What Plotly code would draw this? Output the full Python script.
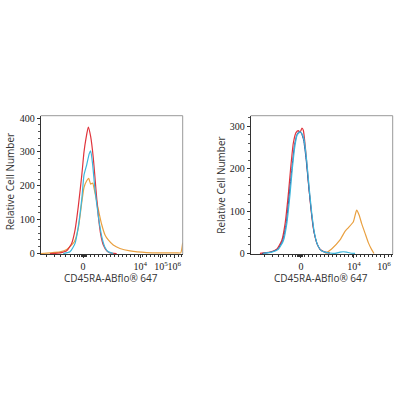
import plotly.graph_objects as go

# ---------- data (display channel 0-1000, relative cell number) ----------
# Left panel
L_red_x = [65, 136, 183, 218, 242, 265, 289, 305, 319, 335, 352, 371, 389, 406, 423, 441, 465, 488, 535]
L_red_y = [0, 2, 8, 30, 70, 140, 230, 300, 340, 373, 345, 280, 190, 110, 55, 25, 8, 2, 0]

L_cyan_x = [159, 206, 242, 265, 289, 305, 324, 342, 352, 366, 382, 406, 430, 453, 476, 511]
L_cyan_y = [0, 5, 30, 80, 160, 232, 262, 295, 303, 262, 190, 110, 50, 18, 5, 0]

L_orange_x = [0, 65, 136, 183, 237, 265, 289, 305, 324, 338, 352, 366, 382, 406, 430, 453, 476, 511, 558, 629, 746, 864, 958, 986, 1000]
L_orange_y = [0, 2, 5, 12, 35, 75, 150, 195, 215, 222, 205, 208, 180, 130, 85, 55, 40, 25, 15, 8, 3, 2, 2, 2, 32]

# Right panel
R_red_x = [65, 136, 183, 218, 242, 265, 281, 300, 319, 335, 347, 361, 371, 385, 406, 423, 441, 465, 488, 523, 558]
R_red_y = [0, 3, 10, 30, 70, 140, 200, 260, 285, 290, 285, 296, 290, 250, 170, 110, 60, 25, 10, 3, 1]

R_navy_x = [80, 140, 190, 225, 250, 272, 290, 308, 325, 342, 356, 372, 390, 410, 428, 446, 468, 492, 522, 556]
R_navy_y = [0, 3, 10, 30, 70, 140, 200, 255, 280, 288, 284, 268, 222, 152, 96, 50, 22, 8, 3, 1]

R_cyan_x = [89, 148, 195, 230, 254, 277, 293, 312, 328, 347, 361, 375, 394, 413, 430, 448, 469, 493, 523, 558, 594, 629, 652, 676, 700, 735]
R_cyan_y = [0, 3, 10, 30, 70, 140, 200, 255, 280, 287, 283, 270, 220, 150, 95, 50, 22, 8, 3, 1, 0, 3, 4, 3, 1, 0]

R_orange_x = [526, 568, 629, 664, 688, 723, 746, 764, 781, 805, 829, 852, 868]
R_orange_y = [0, 10, 32, 52, 61, 75, 102, 90, 71, 48, 25, 9, 0]

# tick labels
L_tickvals = [298, 701, 847, 941]
R_tickvals = [354, 727, 939]
L_ticktext = ["0", "10<sup>4</sup>", "10<sup>5</sup>", "10<sup>6</sup>"]
R_ticktext = ["0", "10<sup>4</sup>", "10<sup>6</sup>"]

x_title = "CD45RA-ABflo® 647"
y_title = "Relative Cell Number"

RED = "#e0343c"
CYAN = "#3bb6dc"
ORANGE = "#e9a040"
NAVY = "#34458f"

fig = go.Figure()

def add(x, y, color, xa, ya, w=1.2):
    fig.add_trace(go.Scatter(x=x, y=y, mode="lines", xaxis=xa, yaxis=ya,
                             line=dict(color=color, width=w, shape="spline", smoothing=0.5),
                             showlegend=False, hoverinfo="skip"))

add(L_orange_x, L_orange_y, ORANGE, "x", "y")
add(L_red_x, L_red_y, RED, "x", "y")
add(L_cyan_x, L_cyan_y, CYAN, "x", "y")

add(R_orange_x, R_orange_y, ORANGE, "x2", "y2")
add(R_red_x, R_red_y, RED, "x2", "y2")
add(R_navy_x, R_navy_y, NAVY, "x2", "y2", 1.0)
add(R_cyan_x, R_cyan_y, CYAN, "x2", "y2")

W = 400.0
tickfont = dict(family="Liberation Serif", size=10, color="#222")

def minor_vals(zero):
    vals = [zero - 260, zero - 200, zero - 160, zero - 120, zero - 90, zero - 60, zero - 40, zero - 25]
    vals += [zero - 14, zero - 9, zero - 5, zero - 2, zero + 2, zero + 5, zero + 9, zero + 14]
    v = zero + 25
    while v < 1000:
        vals.append(v)
        v += 28
    return vals

def xaxis(dom, tv, tt, zero):
    return dict(domain=dom, range=[0, 1000], showgrid=False, zeroline=False,
                showline=True, linecolor="#333", linewidth=1,
                ticks="outside", ticklen=3, tickcolor="#333", tickwidth=1,
                tickmode="array", tickvals=tv, ticktext=tt, tickangle=0,
                tickfont=tickfont,
                minor=dict(tickmode="array", tickvals=minor_vals(zero), ticks="outside",
                           ticklen=2, tickcolor="#333", tickwidth=0.8))

def yaxis(dom, top, anchor):
    return dict(domain=dom, range=[-1, top], anchor=anchor, showgrid=False, zeroline=False,
                showline=True, linecolor="#333", linewidth=1,
                ticks="outside", ticklen=3, tickcolor="#333", tickwidth=1,
                dtick=100, tick0=0, tickfont=tickfont,
                minor=dict(dtick=20, ticks="outside", ticklen=1.5, tickcolor="#555", tickwidth=0.8))

ydom = [1 - 256 / W, 1 - 115 / W]
fig.update_layout(
    width=400, height=400, margin=dict(l=0, r=0, t=0, b=0),
    paper_bgcolor="white", plot_bgcolor="white",
    xaxis=xaxis([40.7 / W, 182.7 / W], L_tickvals, L_ticktext, 298) | dict(anchor="y"),
    yaxis=yaxis(ydom, 407, "x"),
    xaxis2=xaxis([250.7 / W, 392.7 / W], R_tickvals, R_ticktext, 354) | dict(anchor="y2"),
    yaxis2=yaxis(ydom, 325, "x2"),
)

# top/right frame lines (lighter)
for xr, yr in [("x domain", "y domain"), ("x2 domain", "y2 domain")]:
    fig.add_shape(type="line", xref=xr, yref=yr, x0=0, x1=1, y0=1, y1=1,
                  line=dict(color="#999", width=1))
    fig.add_shape(type="line", xref=xr, yref=yr, x0=1, x1=1, y0=0, y1=1,
                  line=dict(color="#999", width=1))

tfont = dict(family="Open Sans", size=10, color="#333")
for xc in [111.2, 321.2]:
    fig.add_annotation(text=x_title, xref="paper", yref="paper", x=xc / W, y=1 - 280.5 / W,
                       showarrow=False, xanchor="center", yanchor="middle", font=tfont)
for xc, yc in [(10, 183), (221.5, 186)]:
    fig.add_annotation(text=y_title, xref="paper", yref="paper", x=xc / W, y=1 - yc / W,
                       showarrow=False, xanchor="center", yanchor="middle", textangle=-90, font=tfont)

fig.write_html("out.html", config={"displayModeBar": False},
               post_script="document.body.style.margin='0';document.body.style.padding='0';")
